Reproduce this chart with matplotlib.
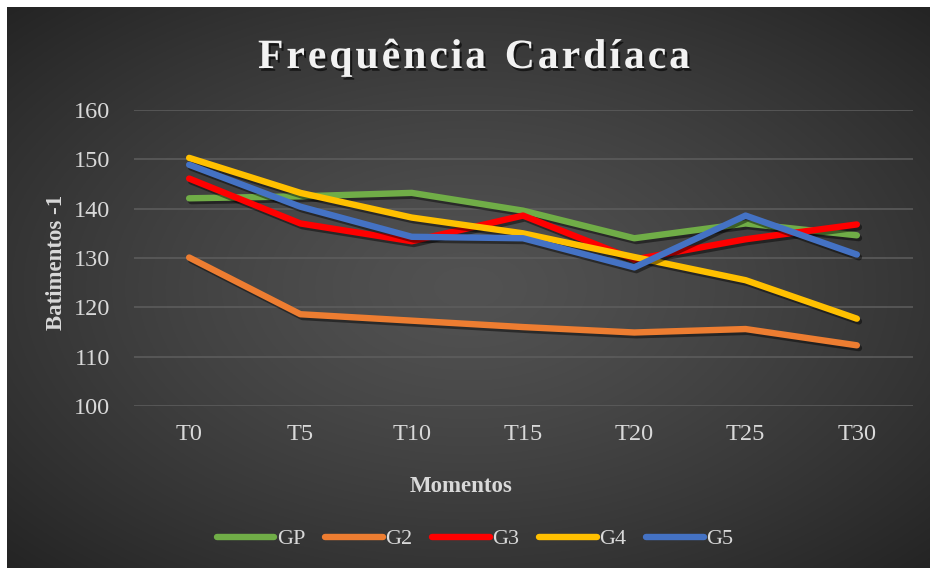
import numpy as np
import matplotlib
matplotlib.use("Agg")
import matplotlib.pyplot as plt
import matplotlib.patheffects as pe
from matplotlib.lines import Line2D

categories = ["T0", "T5", "T10", "T15", "T20", "T25", "T30"]
series_names = ["GP", "G2", "G3", "G4", "G5"]
gp = [142.1, 142.5, 143.2, 139.6, 134.0, 137.0, 134.6]
g2 = [130.1, 118.6, 117.3, 116.0, 114.9, 115.6, 112.3]
g3 = [146.1, 137.0, 133.4, 138.6, 129.7, 133.8, 136.8]
g4 = [150.3, 143.2, 138.2, 135.0, 130.2, 125.5, 117.7]
g5 = [148.9, 140.4, 134.3, 134.0, 128.1, 138.6, 130.7]
colors = ["#70AD47", "#ED7D31", "#FF0000", "#FFC000", "#4472C4"]
yticks = [100, 110, 120, 130, 140, 150, 160]
title = "Frequência Cardíaca"

W, H = 931, 569
fig = plt.figure(figsize=(W / 100, H / 100), dpi=100)
fig.patch.set_facecolor("white")

# background radial gradient
x0, y0, x1, y1 = 7, 7, 930, 568
bg = fig.add_axes([x0 / W, 1 - y1 / H, (x1 - x0) / W, (y1 - y0) / H], zorder=-10)
gx = np.linspace(-1, 1, 600)
gy = np.linspace(-1, 1, 400)
XX, YY = np.meshgrid(gx, gy)
R = np.sqrt(XX ** 2 + YY ** 2) / np.sqrt(2)
c_in, c_out = 0x52 / 255, 0x24 / 255
val = c_in + (c_out - c_in) * np.clip(R, 0, 1) ** 1.3
img = np.dstack([val, val, val])
bg.imshow(img, aspect="auto", extent=[0, 1, 0, 1])
bg.set_axis_off()

serif = ["Liberation Serif", "DejaVu Serif"]
txtc = "#d9d9d9"

ax = fig.add_axes([133.5 / W, 1 - 406 / H, (912.5 - 133.5) / W, (406 - 110) / H])
ax.set_facecolor("none")
x = np.arange(len(categories))
shadow = [pe.SimpleLineShadow(offset=(1.5, -2), shadow_color="black", alpha=0.45), pe.Normal()]
for name, vals, c in zip(series_names, [gp, g2, g3, g4, g5], colors):
    ax.plot(x, vals, color=c, lw=4.6, solid_capstyle="round", solid_joinstyle="round",
            label=name, path_effects=shadow, zorder=3)

ax.set_xlim(-0.5, len(categories) - 0.5)
ax.set_ylim(100, 160)
ax.set_yticks(yticks)
ax.set_xticks(x)
ax.set_xticklabels(categories)
ax.grid(axis="y", color="#5e5e5e", lw=1.1)
ax.set_axisbelow(True)
for s in ax.spines.values():
    s.set_visible(False)
ax.tick_params(length=0, labelsize=17.5, labelcolor=txtc)
ax.tick_params(axis="y", pad=17)
ax.tick_params(axis="x", pad=13)
for lab in ax.get_xticklabels() + ax.get_yticklabels():
    lab.set_fontfamily(serif)

fig.text(461 / W, 1 - 487 / H, "Momentos", ha="center", va="center", fontsize=16.5,
         fontweight="bold", color=txtc, family=serif)
fig.text(57 / W, 1 - 262 / H, "Batimentos -1", ha="center", va="center", fontsize=16.5,
         fontweight="bold", color=txtc, family=serif, rotation=90)

# title with letter spacing
renderer = fig.canvas.get_renderer()
tsize = 30
target_w = 690 - 258
tprops = dict(fontsize=tsize, fontweight="bold", color="#f2f2f2", family=serif)
widths = []
for ch in title:
    t = fig.text(0, 0, ch if ch != " " else "n", **tprops)
    bb = t.get_window_extent(renderer)
    widths.append(bb.width if ch != " " else bb.width * 0.55)
    t.remove()
n_gaps = len(title) - 1
spacing = (target_w - sum(widths)) / n_gaps
cx = 258.0
tshadow = [pe.SimplePatchShadow(offset=(1.5, -2), shadow_rgbFace="black", alpha=0.6), pe.Normal()]
for ch, w in zip(title, widths):
    if ch != " ":
        fig.text(cx / W, 1 - 68 / H, ch, ha="left", va="baseline", path_effects=tshadow, **tprops)
    cx += w + spacing

handles = [Line2D([0], [0], color=c, lw=4.6, solid_capstyle="round") for c in colors]
leg = fig.legend(handles, series_names, loc="center", bbox_to_anchor=(475 / W, 1 - 539 / H),
                 ncol=5, frameon=False, handlelength=2.6, handletextpad=0.1,
                 columnspacing=0.9, prop={"family": serif, "size": 16})
for t in leg.get_texts():
    t.set_color(txtc)

fig.savefig("out.png", dpi=100, facecolor=fig.get_facecolor())
